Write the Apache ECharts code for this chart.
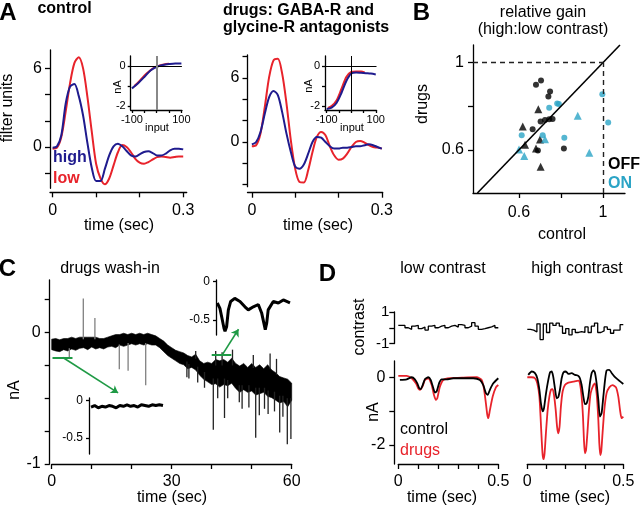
<!DOCTYPE html>
<html><head><meta charset="utf-8">
<script src="https://cdn.jsdelivr.net/npm/echarts@6/dist/echarts.min.js"></script>
<style>html,body{margin:0;padding:0;background:#fff}#c{width:640px;height:516px}</style>
</head><body><div id="c"></div>
<script>
// ---------- DATA ----------
// Panel A: linear filters (filter units) vs time (sec)
const tA = [0,0.01,0.02,0.03,0.04,0.05,0.06,0.07,0.08,0.09,0.10,0.11,0.12,0.13,0.14,0.15,0.16,0.17,0.18,0.19,0.20,0.21,0.22,0.23,0.24,0.25,0.26,0.27,0.28,0.29,0.30];
const ctrlLow  = [-0.13,-0.05,0.77,2.7,4.85,6.4,6.85,6.0,3.8,1.15,-1.3,-2.4,-2.85,-2.4,-1.4,-0.4,0.15,0.0,-0.4,-0.9,-1.2,-1.28,-1.15,-0.95,-0.77,-0.72,-0.77,-0.82,-0.77,-0.72,-0.72];
const ctrlHigh = [-0.05,0.05,0.9,3.3,4.6,4.8,3.9,2.4,0.3,-1.6,-2.6,-2.6,-1.67,-0.64,0.05,0.25,0.05,-0.3,-0.64,-0.72,-0.56,-0.38,-0.33,-0.46,-0.64,-0.64,-0.5,-0.25,-0.13,-0.13,-0.18];
const drugLow  = [-0.4,-0.3,0.8,3.3,6.1,7.65,7.8,6.4,3.6,0.15,-2.5,-3.75,-3.8,-2.65,-0.94,0.47,0.94,0.63,-0.4,-1.25,-1.66,-1.56,-1.1,-0.47,0,0.1,-0.06,-0.3,-0.47,-0.53,-0.62];
const drugHigh = [-0.22,0,0.94,2.66,4.2,4.78,4.4,2.8,0.78,-0.94,-2.3,-2.5,-2.1,-1.1,0,0.47,0.4,0,-0.4,-0.62,-0.62,-0.53,-0.53,-0.47,-0.4,-0.4,-0.3,-0.22,-0.3,-0.47,-0.62];
// Panel A insets: nonlinearities (nA vs input)
const nlCtrlHighIn = [-100,-75,-50,-25,0,25,50,75,100];
const nlCtrlHigh   = [-1.12,-0.86,-0.55,-0.22,-0.04,0.05,0.1,0.13,0.13];
const nlCtrlLowIn  = [-90,-70,-50,-30,-10,10,30,50];
const nlCtrlLow    = [-1.0,-0.76,-0.48,-0.26,-0.08,0.02,0.08,0.11];
const nlDrugHighIn = [-100,-80,-60,-40,-20,0,20,40,60,80,100];
const nlDrugHigh   = [-2.15,-2.08,-1.85,-1.35,-0.75,-0.38,-0.32,-0.34,-0.36,-0.38,-0.42];
const nlDrugLowIn  = [-95,-80,-60,-40,-20,0,20,40,55];
const nlDrugLow    = [-2.1,-2.0,-1.72,-1.15,-0.55,-0.3,-0.27,-0.28,-0.32];
// Panel B: relative gain [control, drugs]
const offCircles = [[0.681,0.899],[0.705,0.918],[0.748,0.868],[0.74,0.845],[0.665,0.695],[0.703,0.73],[0.724,0.737],[0.744,0.74],[0.76,0.741],[0.814,0.606],[0.69,0.597]];
const offTriangles = [[0.692,0.786],[0.618,0.707],[0.629,0.623],[0.70,0.648],[0.681,0.606],[0.703,0.522]];
const onCircles = [[0.613,0.667],[0.744,0.793],[0.782,0.813],[0.79,0.81],[0.713,0.667],[0.816,0.655],[0.997,0.855],[1.025,0.725]];
const onTriangles = [[0.88,0.756],[0.724,0.649],[0.60,0.602],[0.625,0.572],[0.935,0.587]];
// Panel C: drugs wash-in trace envelope (sec, nA)
const cT  = [0,1,2,3,4,5,6,7,8,9,10,11,12,13,14,15,16,17,18,19,20,21,22,23,24,25,26,27,28,29,30,31,32,33,34,35,36,37,38,39,40,41,42,43,44,45,46,47,48,49,50,51,52,53,54,55,56,57,58,59,60];
const cLo = [-0.13,-0.14,-0.145,-0.13,-0.14,-0.125,-0.135,-0.12,-0.115,-0.13,-0.11,-0.125,-0.115,-0.125,-0.11,-0.105,-0.115,-0.095,-0.105,-0.095,-0.085,-0.095,-0.085,-0.095,-0.085,-0.095,-0.095,-0.115,-0.145,-0.175,-0.195,-0.215,-0.235,-0.245,-0.275,-0.265,-0.285,-0.325,-0.355,-0.375,-0.395,-0.39,-0.415,-0.395,-0.405,-0.385,-0.425,-0.455,-0.435,-0.455,-0.445,-0.475,-0.465,-0.455,-0.485,-0.495,-0.515,-0.535,-0.525,-0.565,-0.515];
const cHi = [-0.05,-0.045,-0.055,-0.045,-0.045,-0.035,-0.045,-0.035,-0.035,-0.035,-0.035,-0.035,-0.045,-0.045,-0.035,-0.025,-0.015,-0.015,-0.005,-0.015,-0.005,-0.015,-0.005,-0.015,-0.005,-0.015,-0.025,-0.045,-0.065,-0.095,-0.115,-0.135,-0.145,-0.155,-0.175,-0.185,-0.165,-0.215,-0.235,-0.225,-0.235,-0.205,-0.215,-0.205,-0.225,-0.195,-0.235,-0.255,-0.235,-0.265,-0.235,-0.265,-0.245,-0.275,-0.245,-0.285,-0.305,-0.335,-0.345,-0.355,-0.385];
// spikes [t, from, to]
const cSpikesGray = [[4.4,-0.12,-0.19],[7.9,-0.05,0.26],[10.8,-0.05,0.11],[16.9,-0.09,-0.28],[19.1,-0.08,-0.29],[23.5,-0.08,-0.40]];
const cSpikes = [[33.8,-0.22,-0.34],[34.3,-0.24,-0.35],[36.5,-0.26,-0.38],[38.2,-0.3,-0.42],[40.4,-0.35,-0.74],[41.5,-0.35,-0.50],[43.2,-0.35,-0.65],[44.0,-0.36,-0.50],[46.9,-0.4,-0.53],[47.6,-0.4,-0.58],[49.3,-0.4,-0.57],[51.0,-0.42,-0.80],[51.9,-0.42,-0.63],[53.2,-0.42,-0.58],[54.1,-0.44,-0.62],[55.7,-0.45,-0.60],[57.0,-0.48,-0.76],[57.8,-0.48,-0.64],[58.9,-0.5,-0.85],[59.8,-0.5,-0.81],
  [36.0,-0.2,-0.14],[41.0,-0.25,-0.14],[42.6,-0.25,-0.15],[45.2,-0.25,-0.13],[50.4,-0.27,-0.17],[54.6,-0.28,-0.16],[56.2,-0.32,-0.2]];
const greenSegs = [[[0.2,-0.19],[5.2,-0.19]],[[40.0,-0.172],[44.9,-0.172]]];
const greenArrows = [[[2.8,-0.19],[16.6,-0.459]],[[42.6,-0.172],[46.7,0.025]]];
// Panel C insets (sec within 5-s window, nA)
const insLowT = [0,0.25,0.5,0.75,1,1.25,1.5,1.75,2,2.25,2.5,2.75,3,3.25,3.5,3.75,4,4.25,4.5,4.75,5];
const insLowV = [-0.09,-0.07,-0.1,-0.08,-0.09,-0.07,-0.08,-0.1,-0.07,-0.08,-0.06,-0.08,-0.07,-0.09,-0.06,-0.07,-0.08,-0.06,-0.07,-0.06,-0.07];
const insHighT = [0,0.18,0.3,0.46,0.53,0.64,0.76,0.92,1.2,1.56,1.9,2.13,2.48,2.82,3.05,3.2,3.3,3.4,3.5,3.85,4.2,4.54,4.77,5];
const insHighV = [-0.28,-0.35,-0.46,-0.61,-0.65,-0.59,-0.37,-0.26,-0.22,-0.26,-0.33,-0.37,-0.33,-0.3,-0.41,-0.54,-0.63,-0.54,-0.37,-0.26,-0.28,-0.24,-0.26,-0.28];
// Panel D: contrast stimulus (one value per 1/60-s frame)
const contrastLow  = [0.15,0.15,0.0,-0.1,0.1,0.15,-0.06,0.04,-0.15,0.1,0.15,0.0,0.1,0.15,0.0,0.1,0.15,0.04,0.2,0.15,0.0,0.1,0.32,0.1,-0.1,-0.06,0.0,0.06,0.15,0.0];
const contrastHigh = [-0.1,-0.15,-0.27,0.25,-0.75,0.25,-0.3,0.3,0.15,0.3,0.1,-0.35,-0.05,-0.45,-0.1,-0.3,-0.25,-0.3,0.05,-0.3,0.1,0.3,-0.3,-0.2,0.05,-0.1,-0.35,-0.15,-0.15,0.2];
// Panel D responses [sec, nA]
const dLowCtrl = [[0.008,-0.08],[0.042,-0.06],[0.067,0],[0.083,-0.06],[0.095,-0.18],[0.105,-0.33],[0.112,-0.35],[0.122,-0.23],[0.133,-0.06],[0.15,0],[0.162,-0.08],[0.172,-0.26],[0.183,-0.45],[0.192,-0.42],[0.205,-0.16],[0.217,-0.06],[0.242,-0.06],[0.275,-0.03],[0.325,-0.03],[0.375,-0.03],[0.408,-0.08],[0.425,-0.23],[0.438,-0.47],[0.447,-0.52],[0.458,-0.37],[0.475,-0.18],[0.5,-0.03]];
const dLowDrug = [[0,0.04],[0.042,0.04],[0.067,-0.03],[0.088,-0.18],[0.1,-0.33],[0.108,-0.37],[0.122,-0.26],[0.133,-0.08],[0.15,-0.03],[0.167,-0.23],[0.178,-0.52],[0.188,-0.67],[0.195,-0.62],[0.208,-0.28],[0.225,-0.08],[0.258,-0.03],[0.325,-0.01],[0.392,0],[0.417,-0.08],[0.428,-0.33],[0.438,-0.77],[0.445,-1.11],[0.45,-1.21],[0.458,-0.97],[0.472,-0.57],[0.488,-0.3],[0.5,-0.23]];
const dHighCtrl = [[0.005,0.07],[0.023,0.17],[0.04,0.12],[0.052,-0.03],[0.063,-0.37],[0.071,-0.77],[0.08,-1.01],[0.087,-0.91],[0.095,-0.57],[0.106,-0.18],[0.118,0.14],[0.127,0.17],[0.135,0.02],[0.144,-0.33],[0.153,-0.62],[0.161,-0.59],[0.17,-0.37],[0.179,-0.03],[0.188,0.14],[0.201,0.17],[0.214,0.1],[0.231,0.12],[0.248,0.07],[0.266,0.04],[0.274,-0.03],[0.283,-0.23],[0.292,-0.57],[0.3,-0.79],[0.309,-0.77],[0.318,-0.57],[0.326,-0.18],[0.335,0.12],[0.344,0.2],[0.352,0.14],[0.361,-0.18],[0.37,-0.67],[0.378,-1.16],[0.387,-1.06],[0.396,-0.57],[0.405,-0.08],[0.413,0.2],[0.427,0.22],[0.44,0.12],[0.457,0],[0.474,-0.08],[0.5,-0.2]];
const dHighDrug = [[0,0],[0.023,0],[0.04,-0.03],[0.052,-0.18],[0.063,-0.57],[0.069,-1.16],[0.075,-1.85],[0.08,-2.3],[0.085,-2.42],[0.09,-2.25],[0.097,-1.65],[0.106,-0.97],[0.115,-0.57],[0.123,-0.37],[0.132,-0.35],[0.139,-0.52],[0.148,-0.97],[0.155,-1.46],[0.161,-1.66],[0.168,-1.46],[0.175,-0.87],[0.184,-0.42],[0.196,-0.23],[0.214,-0.16],[0.24,-0.13],[0.266,-0.1],[0.274,-0.18],[0.283,-0.57],[0.29,-1.16],[0.295,-1.85],[0.3,-2.25],[0.306,-2.15],[0.313,-1.65],[0.321,-0.97],[0.33,-0.47],[0.344,-0.23],[0.352,-0.18],[0.361,-0.47],[0.37,-1.26],[0.375,-1.95],[0.38,-2.3],[0.385,-2.2],[0.392,-1.65],[0.401,-0.97],[0.413,-0.47],[0.427,-0.3],[0.444,-0.23],[0.462,-0.3],[0.474,-0.57],[0.483,-0.97],[0.491,-1.21],[0.5,-1.16]];
// tick labels
const aTicksX = [0,0.1,0.2,0.3], aLabelsX = [0,0.3];
const aLeftTicksY = [-2,0,2,4,6], aRightTicksY = [-4,-2,0,2,4,6,8], aLabelsY = [0,6];
const nlTicksX = [-100,-50,0,50,100], nlLabelsX = [-100,100], nlTicksY = [-2,-1,0], nlLabelsY = [-2,0];
const bTicks = [0.6,0.8,1], bLabels = [0.6,1];
const cTicksX = [0,10,20,30,40,50,60], cLabelsX = [0,30,60];
const cTicksY = [-1,-0.75,-0.5,-0.25,0,0.25], cLabelsY = [-1,0];
const cInsTicks = [-0.5,0];
const dTicksX = [0,0.1,0.2,0.3,0.4,0.5], dLabelsX = [0,0.5];
const dTicksY = [-2,-1,0], dLabelsY = [-2,0];
const contrastTicks = [-1,0,1], contrastLabels = [-1,1];

// ---------- STYLE / BUILD ----------
const FONT = '"Liberation Sans", Arial, Helvetica, sans-serif';
const RED = '#e8232b', BLUE = '#1f1b8e', CYAN = '#2ba4c6', GREEN = '#1f9a45';

function pairs(xs, ys){ return xs.map((x,i)=>[x, ys[i]]); }
function ax(gi, min, max, ticks, labels, o){
  o = o || {};
  return {
    type:'value', gridIndex:gi, min, max, show: o.show !== false, offset: o.offset || 0,
    axisLine:{show:true, onZero:false, lineStyle:{color:'#000', width:1.3}},
    axisTick:{show:true, inside:false, length:o.tickLen || 5, customValues:ticks, lineStyle:{color:'#000', width:1.3}},
    axisLabel:{show:true, customValues:labels, margin:o.margin || 8, fontSize:o.fontSize || 16, color:'#000', fontFamily:FONT},
    splitLine:{show:false}
  };
}
function hidden(gi, min, max){ return {type:'value', gridIndex:gi, min, max, show:false, splitLine:{show:false}}; }
function line(gi, data, color, width, extra){
  return Object.assign({type:'line', xAxisIndex:gi, yAxisIndex:gi, data, showSymbol:false, symbol:'none',
    lineStyle:{color, width}, itemStyle:{color}, silent:true, animation:false}, extra || {});
}
function T(text, x, y, o){
  o = o || {};
  return {type:'text', x, y, rotation:o.rot || 0, z:100, silent:true,
    style:{text, fill:o.color || '#000', font:(o.bold ? 'bold ' : '') + (o.size || 16) + 'px ' + FONT,
      align:o.align || 'center', verticalAlign:'middle'}};
}
function g(left, top, width, height){ return {left, top, width, height, containLabel:false, outerBoundsMode:'none'}; }

const frameT = contrastLow.map((v,i)=>i/60);
function stepData(vals){ const d = vals.map((v,i)=>[frameT[i], v]); d.push([0.5, vals[vals.length-1]]); return d; }

const grids = [
  g(50,50,136.7,138.3),     // 0 A left
  g(130.7,56,51.2,54),      // 1 A left inset
  g(247.5,55,135.2,131.7),  // 2 A right
  g(325,56,51.5,54),        // 3 A right inset
  g(473,45,152,148),        // 4 B
  g(51.7,280,240,184),      // 5 C
  g(89,398,75,56),          // 6 C inset low
  g(216,280,75,55),         // 7 C inset high
  g(398.3,312,100,31.5),    // 8 D contrast low
  g(527.3,312,96,31.5),     // 9 D contrast high
  g(398.3,361,100,103),     // 10 D nA low
  g(527.3,361,96,103)       // 11 D nA high
];
const xAxes = [
  ax(0,-0.006,0.308,aTicksX,aLabelsX,{offset:4,margin:10}),
  ax(1,-105,102,nlTicksX,nlLabelsX,{fontSize:11,margin:4,tickLen:3}),
  ax(2,-0.01,0.302,aTicksX,aLabelsX,{offset:6,margin:10}),
  ax(3,-107,103,nlTicksX,nlLabelsX,{fontSize:11,margin:4,tickLen:3}),
  ax(4,0.381,1.105,bTicks,bLabels,{margin:12}),
  ax(5,0,60,cTicksX,cLabelsX,{margin:10}),
  hidden(6,-0.14,5.07),
  hidden(7,-0.09,5.07),
  hidden(8,0,0.5),
  hidden(9,0,0.5),
  ax(10,0,0.5,dTicksX,dLabelsX,{margin:10}),
  ax(11,0,0.5,dTicksX,dLabelsX,{margin:10})
];
const yAxes = [
  ax(0,-3.15,7.4,aLeftTicksY,aLabelsY,{margin:8}),
  ax(1,-2.2,0.5,nlTicksY,nlLabelsY,{fontSize:11,margin:5,tickLen:3}),
  ax(2,-4.19,8.15,aRightTicksY,aLabelsY,{margin:8}),
  ax(3,-2.2,0.5,nlTicksY,nlLabelsY,{fontSize:11,margin:5,tickLen:3}),
  ax(4,0.402,1.081,bTicks,bLabels,{margin:9}),
  ax(5,-1,0.4,cTicksY,cLabelsY,{offset:2,margin:9}),
  ax(6,-0.71,0.03,cInsTicks,cInsTicks,{fontSize:12,margin:6,tickLen:3}),
  ax(7,-0.698,0.02,cInsTicks,cInsTicks,{fontSize:12,margin:6,tickLen:3}),
  ax(8,-1,1,contrastTicks,contrastLabels,{offset:4,margin:5,fontSize:15}),
  hidden(9,-1,1),
  ax(10,-2.563,0.48,dTicksY,dLabelsY,{offset:4,margin:9}),
  hidden(11,-2.563,0.48)
];

const refLines = (vColor, vWidth) => ({silent:true, symbol:'none', label:{show:false}, animation:false,
  data:[{yAxis:0, lineStyle:{color:'#000', width:1, type:'solid'}}, {xAxis:0, lineStyle:{color:vColor, width:vWidth, type:'solid'}}]});

const series = [
  // A left
  line(0, pairs(tA, ctrlLow), RED, 2, {smooth:0.3}),
  line(0, pairs(tA, ctrlHigh), BLUE, 2, {smooth:0.3}),
  line(1, pairs(nlCtrlLowIn, nlCtrlLow), RED, 2, {smooth:0.3, markLine: refLines('#888', 2), z:1}),
  line(1, pairs(nlCtrlHighIn, nlCtrlHigh), BLUE, 2, {smooth:0.3, z:3}),
  // A right
  line(2, pairs(tA, drugLow), RED, 2, {smooth:0.3}),
  line(2, pairs(tA, drugHigh), BLUE, 2, {smooth:0.3}),
  line(3, pairs(nlDrugLowIn, nlDrugLow), RED, 2, {smooth:0.3, markLine: refLines('#000', 1), z:1}),
  line(3, pairs(nlDrugHighIn, nlDrugHigh), BLUE, 2, {smooth:0.3, z:3}),
  // B
  {type:'scatter', xAxisIndex:4, yAxisIndex:4, data:offCircles, symbol:'circle', symbolSize:6, itemStyle:{color:'#000'}, silent:true, animation:false,
    markLine:{silent:true, symbol:'none', label:{show:false}, animation:false, data:[
      [{coord:[0.402,0.402], lineStyle:{color:'#000', width:1.6, type:'solid'}}, {coord:[1.081,1.081], lineStyle:{color:'#000', width:1.6, type:'solid'}}],
      [{coord:[0.381,1], lineStyle:{color:'#222', width:1.4, type:[5,4]}}, {coord:[1,1], lineStyle:{color:'#222', width:1.4, type:[5,4]}}],
      [{coord:[1,0.402], lineStyle:{color:'#222', width:1.4, type:[5,4]}}, {coord:[1,1], lineStyle:{color:'#222', width:1.4, type:[5,4]}}]
    ]}},
  {type:'scatter', xAxisIndex:4, yAxisIndex:4, data:offTriangles, symbol:'triangle', symbolSize:8, itemStyle:{color:'#000'}, silent:true, animation:false},
  {type:'scatter', xAxisIndex:4, yAxisIndex:4, data:onCircles, symbol:'circle', symbolSize:6, itemStyle:{color:CYAN}, silent:true, animation:false},
  {type:'scatter', xAxisIndex:4, yAxisIndex:4, data:onTriangles, symbol:'triangle', symbolSize:8, itemStyle:{color:CYAN}, silent:true, animation:false},
  // C band
  {type:'custom', xAxisIndex:5, yAxisIndex:5, silent:true, animation:false,
    data: cT.map((t,i)=>[t, cLo[i], cHi[i]]), encode:{x:0, y:[1,2]},
    renderItem: function(params, api){
      if (params.dataIndex !== 0) return null;
      const top = [], bot = [];
      for (let i = 0; i < cT.length; i++){ top.push(api.coord([cT[i], cHi[i]])); bot.push(api.coord([cT[i], cLo[i]])); }
      return {type:'polygon', shape:{points: top.concat(bot.reverse())}, style:{fill:'#000', stroke:'#000', lineWidth:0.6}};
    }},
  {type:'custom', xAxisIndex:5, yAxisIndex:5, silent:true, animation:false, data:cSpikesGray, encode:{x:0, y:[1,2]},
    renderItem: function(params, api){
      const a = api.coord([api.value(0), api.value(1)]), b = api.coord([api.value(0), api.value(2)]);
      return {type:'line', shape:{x1:a[0], y1:a[1], x2:b[0], y2:b[1]}, style:{stroke:'#808080', lineWidth:1.3}};
    }},
  {type:'custom', xAxisIndex:5, yAxisIndex:5, silent:true, animation:false, data:cSpikes, encode:{x:0, y:[1,2]},
    renderItem: function(params, api){
      const a = api.coord([api.value(0), api.value(1)]), b = api.coord([api.value(0), api.value(2)]);
      return {type:'line', shape:{x1:a[0], y1:a[1], x2:b[0], y2:b[1]}, style:{stroke:'#222', lineWidth:1.3}};
    }},
  {type:'lines', coordinateSystem:'cartesian2d', xAxisIndex:5, yAxisIndex:5, silent:true, animation:false,
    data: greenSegs.map(s=>({coords:s})), lineStyle:{color:GREEN, width:2, opacity:1}, symbol:'none', z:5},
  {type:'lines', coordinateSystem:'cartesian2d', xAxisIndex:5, yAxisIndex:5, silent:true, animation:false,
    data: greenArrows.map(s=>({coords:s})), lineStyle:{color:GREEN, width:1.6, opacity:1}, symbol:['none','arrow'], symbolSize:7, z:5},
  // C insets
  line(6, pairs(insLowT, insLowV), '#000', 3),
  line(7, pairs(insHighT, insHighV), '#000', 3),
  // D contrast
  line(8, stepData(contrastLow), '#000', 1.3, {step:'end'}),
  line(9, stepData(contrastHigh), '#000', 1.3, {step:'end'}),
  // D responses
  line(10, dLowDrug, RED, 1.8, {smooth:0.2}),
  line(10, dLowCtrl, '#000', 1.8, {smooth:0.2}),
  line(11, dHighDrug, RED, 1.8, {smooth:0.2}),
  line(11, dHighCtrl, '#000', 1.8, {smooth:0.2})
];

const R = Math.PI/2;
const graphic = [
  T('A', 8, 13.5, {bold:true, size:24}),
  T('control', 64.5, 9, {bold:true}),
  T('drugs: GABA-R and', 223, 11, {bold:true, align:'left'}),
  T('glycine-R antagonists', 223, 28, {bold:true, align:'left'}),
  T('filter units', 8, 108, {rot:R}),
  T('high', 53, 158, {bold:true, color:BLUE, align:'left'}),
  T('low', 53, 179, {bold:true, color:RED, align:'left'}),
  T('time (sec)', 119, 225.5),
  T('time (sec)', 318, 225.5),
  T('nA', 118, 87, {rot:R, size:11}),
  T('input', 157, 128, {size:11}),
  T('nA', 309, 86, {rot:R, size:11}),
  T('input', 352, 128, {size:11}),
  T('B', 421.5, 13.5, {bold:true, size:24}),
  T('relative gain', 543, 12.5),
  T('(high:low contrast)', 543, 30),
  T('drugs', 423, 104, {rot:R}),
  T('control', 562, 234.5),
  T('OFF', 608, 164.5, {bold:true, align:'left'}),
  T('ON', 608, 184, {bold:true, color:CYAN, align:'left'}),
  T('C', 7.5, 269.5, {bold:true, size:24}),
  T('drugs wash-in', 110, 268.5),
  T('nA', 14.5, 390, {rot:R}),
  T('time (sec)', 172, 498),
  T('D', 327.5, 274.5, {bold:true, size:24}),
  T('low contrast', 443, 269),
  T('high contrast', 577, 269),
  T('contrast', 359.5, 327, {rot:R}),
  T('nA', 373.5, 412, {rot:R}),
  T('control', 400, 429.5, {align:'left'}),
  T('drugs', 400, 451, {align:'left', color:RED}),
  T('time (sec)', 442, 498),
  T('time (sec)', 575, 498)
];

const chart = echarts.init(document.getElementById('c'), null, {renderer:'canvas'});
chart.setOption({animation:false, backgroundColor:'#fff', textStyle:{fontFamily:FONT},
  grid:grids, xAxis:xAxes, yAxis:yAxes, series, graphic});
</script></body></html>
